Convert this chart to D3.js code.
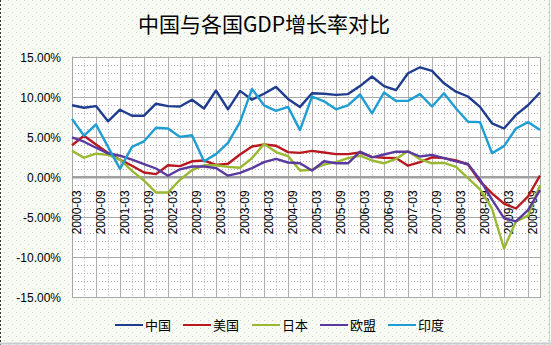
<!DOCTYPE html>
<html><head><meta charset="utf-8">
<script src="https://cdn.jsdelivr.net/npm/d3@7"></script>
<style>body{margin:0;padding:0;background:#fff;}svg{display:block;}</style>
</head><body>
<svg id="c" width="551" height="345"></svg>
<script>
const quarters = [];
for (let y = 2000; y <= 2009; y++) for (const m of ["03","06","09","12"]) quarters.push(y + "-" + m);
const tickLabels = quarters.filter((q, i) => i % 2 === 0);
const yTicks = [-15, -10, -5, 0, 5, 10, 15];
const seriesNames = ["中国", "美国", "日本", "欧盟", "印度"];
const seriesColors = ["#1f3c8f", "#b81820", "#9ab832", "#5a3a9e", "#1e9ed2"];

const china = [9.0, 8.7, 8.9, 7.0, 8.45, 7.7, 7.7, 9.2, 8.9, 8.85, 9.7, 8.6, 10.85, 8.5, 10.8, 9.7, 10.45, 11.3, 9.8, 8.8, 10.5, 10.45, 10.3, 10.4, 11.4, 12.6, 11.4, 10.9, 13.0, 13.75, 13.3, 11.75, 10.7, 10.1, 8.8, 6.75, 6.1, 7.8, 9.0, 10.6];
const usa = [4.0, 5.2, 4.1, 3.05, 2.2, 1.45, 0.6, 0.4, 1.5, 1.4, 2.0, 2.1, 1.55, 1.7, 2.85, 3.85, 4.1, 3.95, 3.15, 3.05, 3.3, 3.1, 2.9, 2.9, 3.1, 2.55, 2.45, 2.4, 1.45, 1.9, 2.5, 2.4, 2.1, 1.6, -0.5, -2.0, -3.3, -3.9, -2.4, 0.2];
const japan = [3.3, 2.45, 2.95, 2.8, 2.2, 0.8, -0.4, -1.9, -1.9, -0.3, 0.9, 1.5, 1.5, 1.3, 1.2, 2.4, 4.15, 3.15, 2.65, 0.85, 0.95, 1.6, 1.9, 2.4, 2.7, 2.1, 1.75, 2.3, 3.3, 2.25, 1.75, 1.8, 1.3, -0.1, -1.5, -3.9, -8.9, -5.5, -4.8, -1.0];
const eu = [5.0, 4.45, 3.7, 3.0, 2.7, 2.2, 1.66, 1.1, 0.2, 1.0, 1.35, 1.35, 1.15, 0.2, 0.55, 1.15, 1.9, 2.3, 1.85, 1.75, 0.85, 2.0, 1.75, 1.75, 3.2, 2.5, 2.85, 3.2, 3.2, 2.6, 2.8, 2.4, 2.0, 1.66, -0.3, -2.8, -5.1, -5.5, -4.1, -1.6];
const india = [7.3, 5.2, 6.6, 3.8, 1.05, 3.8, 4.5, 6.2, 6.1, 5.05, 5.25, 2.0, 2.9, 4.3, 6.9, 11.05, 9.0, 8.3, 8.8, 5.9, 10.1, 9.5, 8.5, 9.0, 10.35, 8.0, 10.6, 9.55, 9.55, 10.4, 8.85, 10.5, 8.6, 6.95, 6.9, 3.0, 3.9, 6.1, 6.9, 5.9];
const seriesValues = [china, usa, japan, eu, india];

const svg = d3.select("#c");
const W = 551, H = 345;
const plot = {left: 72, right: 540, top: 57.3, bottom: 297.3};

// background with dotted pattern
const defs = svg.append("defs");
const pat = defs.append("pattern").attr("id", "dots").attr("width", 8).attr("height", 8).attr("patternUnits", "userSpaceOnUse");
pat.append("rect").attr("width", 8).attr("height", 8).attr("fill", "#f6faf2");
pat.append("rect").attr("x", 0).attr("y", 0).attr("width", 1).attr("height", 1).attr("fill", "#c9cfc6");
pat.append("rect").attr("x", 4).attr("y", 4).attr("width", 1).attr("height", 1).attr("fill", "#c9cfc6");
svg.append("rect").attr("x", 0).attr("y", 0).attr("width", W).attr("height", H).attr("fill", "url(#dots)");
svg.append("line").attr("x1", 0.5).attr("x2", 0.5).attr("y1", 0).attr("y2", H).attr("stroke", "#333").attr("stroke-dasharray", "2,2");
svg.append("line").attr("x1", 0).attr("x2", W).attr("y1", H - 1.5).attr("y2", H - 1.5).attr("stroke", "#c8ccd0").attr("stroke-width", 2);
svg.append("line").attr("x1", W - 1.5).attr("x2", W - 1.5).attr("y1", 0).attr("y2", H).attr("stroke", "#d0d4d0").attr("stroke-width", 1);

const x = d3.scalePoint().domain(quarters).range([plot.left, plot.right]);
const y = d3.scaleLinear().domain([-15, 15]).range([plot.bottom, plot.top]);

// plot area
svg.append("rect").attr("x", plot.left).attr("y", plot.top).attr("width", plot.right - plot.left).attr("height", plot.bottom - plot.top).attr("fill", "#ffffff");

const grid = svg.append("g");
// horizontal minor gridlines every 1%
grid.selectAll("line.hm").data(d3.range(-15, 16, 1).filter(v => v % 5 !== 0)).join("line")
  .attr("x1", plot.left).attr("x2", plot.right)
  .attr("y1", d => Math.round(y(d)) + 0.5).attr("y2", d => Math.round(y(d)) + 0.5)
  .attr("stroke", "#b4b4b4").attr("stroke-dasharray", "1,2");
// vertical gridlines every quarter
grid.selectAll("line.v").data(quarters).join("line")
  .attr("x1", d => Math.round(x(d)) + 0.5).attr("x2", d => Math.round(x(d)) + 0.5)
  .attr("y1", plot.top).attr("y2", plot.bottom)
  .attr("stroke", "#b0b0b0")
  .attr("stroke-dasharray", (d, i) => i % 2 === 0 ? null : "1,2");
// horizontal major gridlines
grid.selectAll("line.hM").data(yTicks).join("line")
  .attr("x1", plot.left).attr("x2", plot.right)
  .attr("y1", d => Math.round(y(d)) + 0.5).attr("y2", d => Math.round(y(d)) + 0.5)
  .attr("stroke", "#a8a8a8");
svg.append("rect").attr("x", plot.left + 0.5).attr("y", Math.round(plot.top) + 0.5).attr("width", plot.right - plot.left).attr("height", plot.bottom - plot.top).attr("fill", "none").attr("stroke", "#a8a8a8");
// zero axis
svg.append("line").attr("x1", plot.left).attr("x2", plot.right).attr("y1", y(0)).attr("y2", y(0)).attr("stroke", "#a0a0a0").attr("stroke-width", 2.5);

// y axis labels
const yAxis = d3.axisLeft(y).tickValues(yTicks).tickSize(0).tickPadding(0).tickFormat(d => d.toFixed(2) + "%");
const gy = svg.append("g").attr("transform", `translate(61,0)`).call(yAxis);
gy.select(".domain").remove();
gy.selectAll("text").attr("font-family", "Liberation Sans, Arial, sans-serif").attr("font-size", 12).attr("fill", "#000");

// x axis labels rotated
const xAxis = d3.axisBottom(x).tickValues(tickLabels).tickSize(0).tickPadding(0);
const gx = svg.append("g").attr("transform", `translate(0,${y(0)})`).call(xAxis);
gx.select(".domain").remove();
gx.selectAll("text")
  .attr("font-family", "Liberation Sans, Arial, sans-serif").attr("font-size", 12).attr("fill", "#000")
  .attr("text-anchor", "end").attr("dy", null).attr("y", 0)
  .attr("transform", "translate(8,13) rotate(-90)");

// lines
const line = d3.line().x((d, i) => x(quarters[i])).y(d => y(d)).curve(d3.curveLinear);
seriesValues.forEach((vals, k) => {
  svg.append("path").datum(vals).attr("d", line).attr("fill", "none")
    .attr("stroke", seriesColors[k]).attr("stroke-width", 2.4).attr("stroke-linejoin", "round");
});

// title
svg.append("text").attr("x", 264).attr("y", 32).attr("text-anchor", "middle")
  .attr("font-family", "Noto Sans CJK SC, sans-serif").attr("font-size", 21).attr("fill", "#000")
  .text("中国与各国GDP增长率对比");

// legend
const legendX = [115, 183, 252, 320, 388];
const lg = svg.append("g");
seriesNames.forEach((n, k) => {
  lg.append("line").attr("x1", legendX[k]).attr("x2", legendX[k] + 28).attr("y1", 325).attr("y2", 325)
    .attr("stroke", seriesColors[k]).attr("stroke-width", 2);
  lg.append("text").attr("x", legendX[k] + 30).attr("y", 330).attr("font-family", "Noto Sans CJK SC, sans-serif")
    .attr("font-size", 13).attr("fill", "#000").text(n);
});
</script>
</body></html>
